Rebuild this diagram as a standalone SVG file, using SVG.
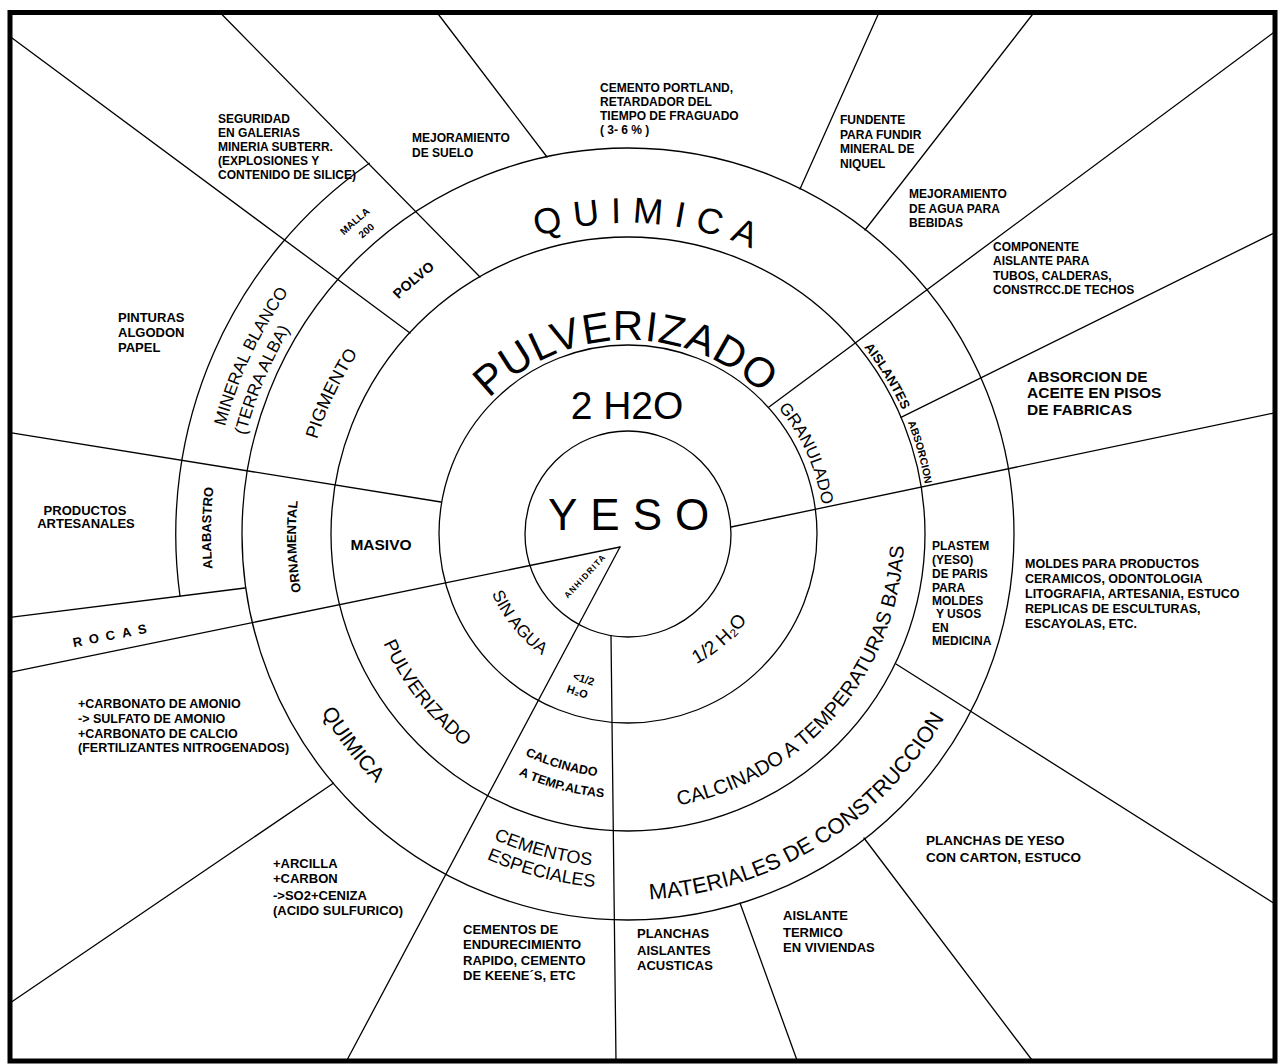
<svg xmlns="http://www.w3.org/2000/svg" xmlns:xlink="http://www.w3.org/1999/xlink" width="1278" height="1064" viewBox="0 0 1278 1064">
<style>
.ln{stroke:#000;stroke-width:1.3;fill:none;stroke-linecap:round}
.t{font-family:"Liberation Sans",Arial,"DejaVu Sans",sans-serif;fill:#000}
.b{font-weight:bold}
.s12{font-size:12px}
.s13{font-size:13px}
</style>
<defs>
<path id="cw311" d="M 628 845 A 311 311 0 1 1 628 223 A 311 311 0 1 1 628 845"/>
<path id="cw194" d="M 628 728 A 194 194 0 1 1 628 340 A 194 194 0 1 1 628 728"/>
<path id="cw196" d="M 628 730 A 196 196 0 1 1 628 338 A 196 196 0 1 1 628 730"/>
<path id="cw301" d="M 628 835 A 301 301 0 1 1 628 233 A 301 301 0 1 1 628 835"/>
<path id="cw417" d="M 628 951 A 417 417 0 1 1 628 117 A 417 417 0 1 1 628 951"/>
<path id="cw395" d="M 628 929 A 395 395 0 1 1 628 139 A 395 395 0 1 1 628 929"/>
<path id="cw332" d="M 628 866 A 332 332 0 1 1 628 202 A 332 332 0 1 1 628 866"/>
<path id="cw325" d="M 628 859 A 325 325 0 1 1 628 209 A 325 325 0 1 1 628 859"/>
<path id="cw328" d="M 628 862 A 328 328 0 1 1 628 206 A 328 328 0 1 1 628 862"/>
<path id="cw412" d="M 628 946 A 412 412 0 1 1 628 122 A 412 412 0 1 1 628 946"/>
<path id="cw397" d="M 628 931 A 397 397 0 1 1 628 137 A 397 397 0 1 1 628 931"/>
<path id="ccw354" d="M 273.5 534 A 354.5 354.5 0 1 0 982.5 534 A 354.5 354.5 0 1 0 273.5 534"/>
<path id="ccw268" d="M 360 534 A 268 268 0 1 0 896 534 A 268 268 0 1 0 360 534"/>
<path id="ccw148" d="M 479.5 534 A 148.5 148.5 0 1 0 776.5 534 A 148.5 148.5 0 1 0 479.5 534"/>
<path id="ccw244" d="M 384 534 A 244 244 0 1 0 872 534 A 244 244 0 1 0 384 534"/>
<path id="ccw264" d="M 363.5 534 A 264.5 264.5 0 1 0 892.5 534 A 264.5 264.5 0 1 0 363.5 534"/>
<path id="ccw333" d="M 294.5 534 A 333.5 333.5 0 1 0 961.5 534 A 333.5 333.5 0 1 0 294.5 534"/>
<path id="ccw366" d="M 262 534 A 366 366 0 1 0 994 534 A 366 366 0 1 0 262 534"/>
<path id="ccw276" d="M 352 534 A 276 276 0 1 0 904 534 A 276 276 0 1 0 352 534"/>
<path id="ccw147" d="M 481 534 A 147 147 0 1 0 775 534 A 147 147 0 1 0 481 534"/>
</defs>
<rect width="1278" height="1064" fill="#fff"/>
<rect x="10" y="12.5" width="1265" height="1048.5" fill="none" stroke="#000" stroke-width="5"/>

<g id="connectors">
<circle class="ln" cx="628" cy="534" r="103"/>
<circle class="ln" cx="628" cy="534" r="189"/>
<circle class="ln" cx="628" cy="534" r="297"/>
<circle class="ln" cx="628" cy="534" r="386"/>
<path class="ln" d="M 369.3 163.3 A 452 452 0 0 0 180 596"/>
<line class="ln" x1="10" y1="36.5" x2="410" y2="333"/>
<line class="ln" x1="220" y1="12.5" x2="480" y2="277"/>
<line class="ln" x1="437" y1="12.5" x2="547" y2="157"/>
<line class="ln" x1="879" y1="12.5" x2="800" y2="189"/>
<line class="ln" x1="1034" y1="12.5" x2="865" y2="230"/>
<line class="ln" x1="1275" y1="31.5" x2="769" y2="407"/>
<line class="ln" x1="1275" y1="232.5" x2="901" y2="417.4"/>
<line class="ln" x1="731" y1="527" x2="1275" y2="412.8"/>
<line class="ln" x1="896" y1="664" x2="1275" y2="904"/>
<line class="ln" x1="864" y1="838" x2="1032.7" y2="1061"/>
<line class="ln" x1="740" y1="903" x2="797.3" y2="1061"/>
<line class="ln" x1="611" y1="635.5" x2="616" y2="1061"/>
<line class="ln" x1="620" y1="547" x2="346.5" y2="1061"/>
<line class="ln" x1="333.3" y1="783.2" x2="10" y2="1003"/>
<line class="ln" x1="10" y1="672.4" x2="620" y2="547"/>
<line class="ln" x1="10" y1="617.3" x2="245" y2="588"/>
<line class="ln" x1="10" y1="432.7" x2="441" y2="502"/>
</g>

<g id="yeso"><text class="t" x="548" y="530" font-size="44" letter-spacing="13">YESO</text></g>
<g id="dos-h2o"><text class="t" x="627" y="419" font-size="39" text-anchor="middle">2 H2O</text></g>
<g id="anhidrita"><text class="t b" x="585" y="579" font-size="8.5" letter-spacing="1.2" text-anchor="middle" transform="rotate(-47 585 576)">ANHIDRITA</text></g>
<g id="sin-agua"><text class="t" font-size="17" text-anchor="middle"><textPath href="#ccw148" startOffset="101.3">SIN AGUA</textPath></text></g>
<g id="menos-medio-h2o"><text class="t b" font-size="11" text-anchor="middle" transform="rotate(18 580 687)"><tspan x="581" y="682">&lt;1/2</tspan><tspan x="579" y="696">H₂O</tspan></text></g>
<g id="medio-h2o"><text class="t" font-size="19" text-anchor="middle"><textPath href="#ccw147" startOffset="336">1/2 H₂O</textPath></text></g>

<g id="pulverizado"><text class="t" font-size="42" letter-spacing="1" text-anchor="middle"><textPath href="#cw194" startOffset="606.6">PULVERIZADO</textPath></text></g>
<g id="granulado"><text class="t" font-size="17" text-anchor="middle"><textPath href="#cw196" startOffset="840.5">GRANULADO</textPath></text></g>
<g id="masivo"><text class="t b" x="381" y="550" font-size="15.5" text-anchor="middle">MASIVO</text></g>
<g id="pulverizado-2"><text class="t" font-size="19" text-anchor="middle"><textPath href="#ccw268" startOffset="178.9">PULVERIZADO</textPath></text></g>
<g id="calcinado-altas"><text class="t b" font-size="12.5" text-anchor="middle"><textPath href="#ccw244" startOffset="314.3">CALCINADO</textPath></text><text class="t b" font-size="12.5" text-anchor="middle"><textPath href="#ccw264" startOffset="346.7">A TEMP.ALTAS</textPath></text></g>
<g id="calcinado-bajas"><text class="t" font-size="20" text-anchor="middle"><textPath href="#ccw276" startOffset="669.3">CALCINADO A TEMPERATURAS BAJAS</textPath></text></g>

<g id="quimica"><text class="t" font-size="36" letter-spacing="11" text-anchor="middle"><textPath href="#cw311" startOffset="999.4">QUIMICA</textPath></text></g>
<g id="polvo"><text class="t b" font-size="14" text-anchor="middle"><textPath href="#cw328" startOffset="800.3">POLVO</textPath></text></g>
<g id="pigmento"><text class="t" font-size="18" text-anchor="middle"><textPath href="#cw325" startOffset="654">PIGMENTO</textPath></text></g>
<g id="ornamental"><text class="t b" font-size="13" text-anchor="middle"><textPath href="#cw332" startOffset="508.8">ORNAMENTAL</textPath></text></g>
<g id="aislantes"><text class="t b" font-size="13" text-anchor="middle"><textPath href="#cw301" startOffset="1253.5">AISLANTES</textPath></text></g>
<g id="absorcion"><text class="t b" font-size="10.5" text-anchor="middle"><textPath href="#cw301" startOffset="1335.9">ABSORCION</textPath></text></g>
<g id="quimica-2"><text class="t" font-size="21" text-anchor="middle"><textPath href="#ccw354" startOffset="231.4">QUIMICA</textPath></text></g>
<g id="cementos-especiales"><text class="t" font-size="18" text-anchor="middle"><textPath href="#ccw333" startOffset="436">CEMENTOS</textPath></text><text class="t" font-size="18" text-anchor="middle"><textPath href="#ccw354" startOffset="467.1">ESPECIALES</textPath></text></g>
<g id="materiales"><text class="t" font-size="22" text-anchor="middle"><textPath href="#ccw366" startOffset="776.5">MATERIALES DE CONSTRUCCION</textPath></text></g>
<g id="plastem"><text class="t b" font-size="12" x="932" y="550">PLASTEM<tspan x="932" y="564">(YESO)</tspan><tspan x="932" y="578">DE PARIS</tspan><tspan x="932" y="592">PARA</tspan><tspan x="932" y="605">MOLDES</tspan><tspan x="936" y="618">Y USOS</tspan><tspan x="932" y="632">EN</tspan><tspan x="932" y="645">MEDICINA</tspan></text></g>

<g id="malla-200"><text class="t b" font-size="10" text-anchor="middle"><textPath href="#cw412" startOffset="998.1">MALLA</textPath></text><text class="t b" font-size="10" text-anchor="middle"><textPath href="#cw397" startOffset="964.5">200</textPath></text></g>
<g id="mineral-blanco"><text class="t" font-size="17" text-anchor="middle"><textPath href="#cw417" startOffset="838.4">MINERAL BLANCO</textPath></text><text class="t" font-size="17" text-anchor="middle"><textPath href="#cw395" startOffset="777.6">(TERRA ALBA)</textPath></text></g>
<g id="alabastro"><text class="t b" font-size="13" text-anchor="middle"><textPath href="#cw417" startOffset="660.8">ALABASTRO</textPath></text></g>

<g id="rocas"><text class="t b" x="113" y="640" font-size="13" letter-spacing="7" text-anchor="middle" transform="rotate(-11 110 635)">ROCAS</text></g>

<g id="seguridad"><text class="t b s12" x="218" y="123">SEGURIDAD<tspan x="218" y="137">EN GALERIAS</tspan><tspan x="218" y="151">MINERIA SUBTERR.</tspan><tspan x="218" y="165">(EXPLOSIONES Y</tspan><tspan x="218" y="179">CONTENIDO DE SILICE)</tspan></text></g>
<g id="mejoramiento-suelo"><text class="t b s12" x="412" y="142">MEJORAMIENTO<tspan x="412" y="157">DE SUELO</tspan></text></g>
<g id="cemento-portland"><text class="t b s12" x="600" y="92">CEMENTO PORTLAND,<tspan x="600" y="106">RETARDADOR DEL</tspan><tspan x="600" y="120">TIEMPO DE FRAGUADO</tspan><tspan x="600" y="134">( 3- 6 % )</tspan></text></g>
<g id="fundente"><text class="t b s12" x="840" y="124">FUNDENTE<tspan x="840" y="138.5">PARA FUNDIR</tspan><tspan x="840" y="153">MINERAL DE</tspan><tspan x="840" y="167.5">NIQUEL</tspan></text></g>
<g id="mejoramiento-agua"><text class="t b s12" x="909" y="198">MEJORAMIENTO<tspan x="909" y="213">DE AGUA PARA</tspan><tspan x="909" y="227">BEBIDAS</tspan></text></g>
<g id="componente"><text class="t b s12" x="993" y="251">COMPONENTE<tspan x="993" y="265">AISLANTE PARA</tspan><tspan x="993" y="280">TUBOS, CALDERAS,</tspan><tspan x="993" y="294">CONSTRCC.DE TECHOS</tspan></text></g>
<g id="absorcion-aceite"><text class="t b" font-size="15.5" x="1027" y="382">ABSORCION DE<tspan x="1027" y="398">ACEITE EN PISOS</tspan><tspan x="1027" y="415">DE FABRICAS</tspan></text></g>
<g id="moldes"><text class="t b" font-size="12.5" x="1025" y="568">MOLDES PARA PRODUCTOS<tspan x="1025" y="583">CERAMICOS, ODONTOLOGIA</tspan><tspan x="1025" y="598">LITOGRAFIA, ARTESANIA, ESTUCO</tspan><tspan x="1025" y="613">REPLICAS DE ESCULTURAS,</tspan><tspan x="1025" y="628">ESCAYOLAS, ETC.</tspan></text></g>
<g id="planchas-yeso"><text class="t b" font-size="13.5" x="926" y="845">PLANCHAS DE YESO<tspan x="926" y="862">CON CARTON, ESTUCO</tspan></text></g>
<g id="aislante-termico"><text class="t b s13" x="783" y="920">AISLANTE<tspan x="783" y="937">TERMICO</tspan><tspan x="783" y="952">EN VIVIENDAS</tspan></text></g>
<g id="planchas-aislantes"><text class="t b s13" x="637" y="938">PLANCHAS<tspan x="637" y="955">AISLANTES</tspan><tspan x="637" y="970">ACUSTICAS</tspan></text></g>
<g id="cementos-endurecimiento"><text class="t b s13" x="463" y="934">CEMENTOS DE<tspan x="463" y="949">ENDURECIMIENTO</tspan><tspan x="463" y="965">RAPIDO, CEMENTO</tspan><tspan x="463" y="980">DE KEENE´S, ETC</tspan></text></g>
<g id="arcilla"><text class="t b s13" x="273" y="868">+ARCILLA<tspan x="273" y="883">+CARBON</tspan><tspan x="273" y="900">-&gt;SO2+CENIZA</tspan><tspan x="273" y="915">(ACIDO SULFURICO)</tspan></text></g>
<g id="carbonato"><text class="t b" font-size="12.5" x="78" y="708">+CARBONATO DE AMONIO<tspan x="78" y="723">-&gt; SULFATO DE AMONIO</tspan><tspan x="78" y="738">+CARBONATO DE CALCIO</tspan><tspan x="78" y="752">(FERTILIZANTES NITROGENADOS)</tspan></text></g>
<g id="productos"><text class="t b s13" x="85" y="515" text-anchor="middle">PRODUCTOS<tspan x="86" y="528">ARTESANALES</tspan></text></g>
<g id="pinturas"><text class="t b s13" x="118" y="322">PINTURAS<tspan x="118" y="337">ALGODON</tspan><tspan x="118" y="352">PAPEL</tspan></text></g>
</svg>
